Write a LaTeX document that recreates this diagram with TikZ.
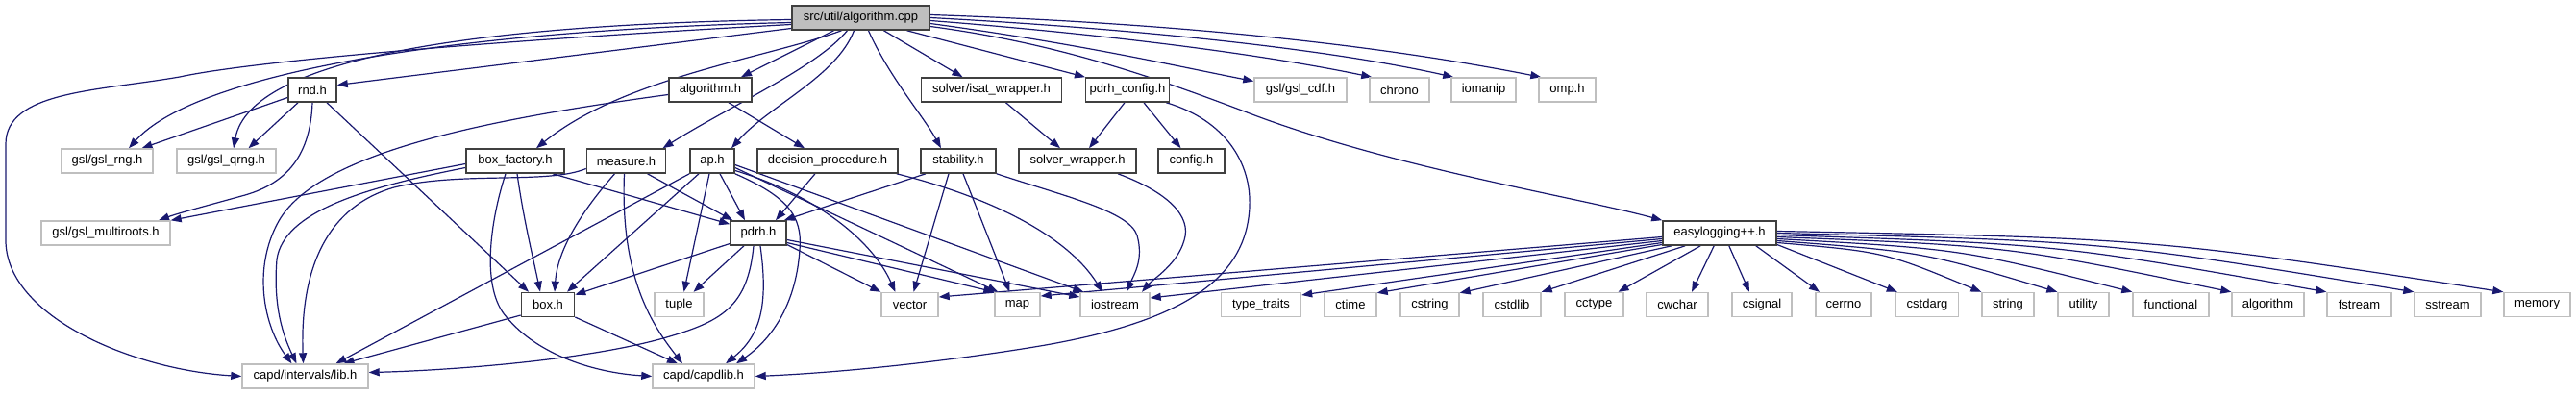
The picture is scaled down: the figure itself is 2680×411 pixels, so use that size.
\documentclass[tikz,border=0pt]{standalone}
\usepackage{fontspec}
\setmainfont{Liberation Sans}
\usetikzlibrary{arrows.meta}
\definecolor{navy}{RGB}{25,25,112}
\definecolor{lgray}{RGB}{191,191,191}
\definecolor{dgray}{RGB}{64,64,64}
\pgfdeclarelayer{paper}
\pgfdeclarelayer{bg}
\pgfsetlayers{paper,bg,main}
\begin{document}
\begin{tikzpicture}[x=1pt,y=-1pt,font=\fontsize{13}{15}\selectfont,
  base/.style={rectangle, inner sep=0pt, minimum height=25pt, text=black},
  intn/.style={base, draw=dgray, line width=1.6pt, fill=white},
  extn/.style={base, draw=lgray, line width=1.4pt, fill=white},
  rootn/.style={base, draw=dgray, line width=1.6pt, fill=lgray},
  dep/.style={draw=navy, line width=1.2pt, -{Triangle[length=11pt,width=8pt]}}]
\begin{pgfonlayer}{paper}
\fill[white] (0,0) rectangle (2680,411);
\end{pgfonlayer}
\useasboundingbox (0,0) rectangle (2680,411);
% row 1
\node[rootn, minimum width=143pt] (ac) at (895.5,18.5) {src/util/algorithm.cpp};
% row 2
\node[intn, minimum width=50pt] (rnd) at (325,93.5) {rnd.h};
\node[intn, minimum width=86pt] (algh) at (739,93.5) {algorithm.h};
\node[intn, minimum width=146pt] (isat) at (1031.5,93.5) {solver/isat\_wrapper.h};
\node[intn, minimum width=87pt] (pcfg) at (1173,93.5) {pdrh\_config.h};
\node[extn, minimum width=96pt] (cdf) at (1353,93.5) {gsl/gsl\_cdf.h};
\node[extn, minimum width=62pt] (chrono) at (1456,93.5) {chrono};
\node[extn, minimum width=67pt] (iomanip) at (1543.5,93.5) {iomanip};
\node[extn, minimum width=59pt] (omp) at (1630.5,93.5) {omp.h};
% row 3
\node[extn, minimum width=95pt] (rng) at (111.5,167.5) {gsl/gsl\_rng.h};
\node[extn, minimum width=103pt] (qrng) at (235.5,167.5) {gsl/gsl\_qrng.h};
\node[intn, minimum width=102pt] (bf) at (536,167.5) {box\_factory.h};
\node[intn, minimum width=82pt] (meas) at (651.5,167.5) {measure.h};
\node[intn, minimum width=46pt] (ap) at (741,167.5) {ap.h};
\node[intn, minimum width=146pt] (dp) at (861,167.5) {decision\_procedure.h};
\node[intn, minimum width=78pt] (stab) at (997,167.5) {stability.h};
\node[intn, minimum width=122pt] (sw) at (1121,167.5) {solver\_wrapper.h};
\node[intn, minimum width=69pt] (cfg) at (1239.5,167.5) {config.h};
% row 4
\node[extn, minimum width=134pt] (multi) at (110,242.5) {gsl/gsl\_multiroots.h};
\node[intn, minimum width=58pt] (pdrh) at (789,242.5) {pdrh.h};
\node[intn, minimum width=118pt] (easy) at (1789,242.5) {easylogging++.h};
% row 5
\node[intn, minimum width=55pt] (box) at (570,317) {box.h};
\node[extn, minimum width=51pt] (tuple) at (706.5,317) {tuple};
\node[extn, minimum width=59pt] (vector) at (946.5,317) {vector};
\node[extn, minimum width=47pt] (map) at (1058.5,317) {map};
\node[extn, minimum width=72pt] (iostream) at (1160,317) {iostream};
\node[extn, minimum width=83pt] (tt) at (1312,317) {type\_traits};
\node[extn, minimum width=54pt] (ctime) at (1405,317) {ctime};
\node[extn, minimum width=61pt] (cstring) at (1487.5,317) {cstring};
\node[extn, minimum width=60pt] (cstdlib) at (1573,317) {cstdlib};
\node[extn, minimum width=61pt] (cctype) at (1658.5,317) {cctype};
\node[extn, minimum width=64pt] (cwchar) at (1745,317) {cwchar};
\node[extn, minimum width=62pt] (csignal) at (1833,317) {csignal};
\node[extn, minimum width=58pt] (cerrno) at (1918,317) {cerrno};
\node[extn, minimum width=65pt] (cstdarg) at (2005,317) {cstdarg};
\node[extn, minimum width=54pt] (string) at (2089,317) {string};
\node[extn, minimum width=53pt] (utility) at (2167.5,317) {utility};
\node[extn, minimum width=79pt] (functional) at (2258.5,317) {functional};
\node[extn, minimum width=75pt] (algorithm) at (2359.5,317) {algorithm};
\node[extn, minimum width=67pt] (fstream) at (2454.5,317) {fstream};
\node[extn, minimum width=69pt] (sstream) at (2546.5,317) {sstream};
\node[extn, minimum width=69pt] (memory) at (2639.5,317) {memory};
% row 6
\node[extn, minimum width=131pt] (lib) at (317.5,391.5) {capd/intervals/lib.h};
\node[extn, minimum width=106pt] (capd) at (732,391.5) {capd/capdlib.h};

\begin{pgfonlayer}{bg}
% from algorithm.cpp
\draw[dep] ([yshift=-2pt]ac.west) .. controls (500,25) and (260,60) .. ([xshift=7.5pt]qrng.north);
\draw[dep] ([yshift=-5pt]ac.west) .. controls (450,32) and (200,80) .. ([xshift=22.5pt]rng.north);
\draw[dep] ([yshift=-7pt]ac.west) .. controls (550,40) and (270,62) .. (187,80) .. controls (100,95) and (6,95) .. (6,150) -- (6,250) .. controls (6,330) and (140,385) .. (lib.west);
\draw[dep] ([yshift=-11pt]ac.west) -- ([yshift=5pt]rnd.east);
\draw[dep] ([xshift=-28pt]ac.south) -- ([xshift=32pt]algh.north);
\draw[dep] ([xshift=-20pt]ac.south) .. controls (800,60) and (650,80) .. ([xshift=22pt]bf.north);
\draw[dep] ([xshift=-14pt]ac.south) .. controls (850,70) and (760,110) .. ([xshift=38pt]meas.north);
\draw[dep] ([xshift=-7pt]ac.south) .. controls (870,80) and (800,110) .. ([xshift=20pt]ap.north);
\draw[dep] ([xshift=8pt]ac.south) .. controls (925,80) and (960,120) .. ([xshift=-18pt]stab.north);
\draw[dep] ([xshift=24pt]ac.south) -- ([xshift=-30pt]isat.north);
\draw[dep] ([xshift=48pt]ac.south) -- ([xshift=-44pt]pcfg.north);
\draw[dep] ([yshift=3pt]ac.east) .. controls (1250,25) and (1450,50) .. ([xshift=3pt]omp.north west);
\draw[dep] (ac.east) .. controls (1220,32) and (1400,55) .. ([xshift=3pt]iomanip.north west);
\draw[dep] ([yshift=-3pt]ac.east) .. controls (1180,38) and (1330,60) .. ([xshift=3pt]chrono.north west);
\draw[dep] ([yshift=-6pt]ac.east) .. controls (1120,45) and (1230,70) .. ([yshift=9pt]cdf.west);
\draw[dep] ([yshift=-9pt]ac.east) .. controls (1100,45) and (1200,80) .. (1300,118) .. controls (1450,175) and (1640,205) .. (easy.north west);
% rnd.h
\draw[dep] ([yshift=-8pt]rnd.west) -- ([xshift=36pt]rng.north);
\draw[dep] ([xshift=-15pt]rnd.south) -- ([xshift=23pt]qrng.north);
\draw[dep] (rnd.south) .. controls (323,160) and (300,190) .. (255,203) .. controls (215,214) and (185,222) .. ([xshift=55pt]multi.north);
\draw[dep] ([xshift=15pt]rnd.south) -- ([xshift=-20pt]box.north);
% box_factory.h
\draw[dep] ([yshift=-3pt]bf.west) -- (multi.north east);
\draw[dep] ([yshift=-7pt]bf.west) .. controls (380,195) and (295,220) .. (288,270) .. controls (284,320) and (295,350) .. ([xshift=-9pt]lib.north);
\draw[dep] ([xshift=2pt]bf.south) .. controls (545,230) and (555,270) .. ([xshift=-8pt]box.north);
\draw[dep] ([xshift=-10pt]bf.south) .. controls (510,230) and (500,300) .. (527,330) .. controls (560,370) and (620,388) .. (capd.west);
\draw[dep] ([xshift=39pt]bf.south) -- ([yshift=-4pt]pdrh.north west);
% measure.h
\draw[dep] ([yshift=-8pt]meas.west) .. controls (570,192) and (480,178) .. (410,195) .. controls (340,215) and (312,280) .. ([xshift=-2pt]lib.north);
\draw[dep] ([xshift=-12pt]meas.south) .. controls (605,220) and (580,260) .. ([xshift=7pt]box.north);
\draw[dep] ([xshift=-2pt]meas.south) .. controls (645,290) and (680,340) .. ([xshift=-22pt]capd.north);
\draw[dep] ([xshift=22pt]meas.south) -- ([xshift=3pt]pdrh.north west);
% ap.h
\draw[dep] (ap.south west) -- ([xshift=32pt]lib.north);
\draw[dep] ([xshift=-14pt]ap.south) -- ([xshift=20pt]box.north);
\draw[dep] ([xshift=-3pt]ap.south) -- ([xshift=5pt]tuple.north);
\draw[dep] ([xshift=8pt]ap.south) -- ([xshift=-14pt]pdrh.north);
\draw[dep] (ap.south east) .. controls (820,205) and (835,225) .. (832,260) .. controls (828,320) and (800,355) .. ([xshift=34pt]capd.north);
\draw[dep] ([yshift=-10pt]ap.east) .. controls (840,200) and (905,245) .. ([xshift=-15pt]vector.north);
\draw[dep] ([yshift=-7pt]ap.east) -- ([xshift=4pt]map.north west);
\draw[dep] ([yshift=-4pt]ap.east) -- ([xshift=4pt]iostream.north west);
% pdrh.h
\draw[dep] ([yshift=-11pt]pdrh.west) -- ([yshift=-3pt]box.north east);
\draw[dep] ([xshift=-15pt]pdrh.south) -- ([xshift=15pt]tuple.north);
\draw[dep] ([xshift=-5pt]pdrh.south) .. controls (778,320) and (750,335) .. (690,352) .. controls (600,377) and (450,386) .. ([yshift=4pt]lib.east);
\draw[dep] ([xshift=2pt]pdrh.south) .. controls (800,320) and (790,350) .. ([xshift=23pt]capd.north);
\draw[dep] ([yshift=-12pt]pdrh.east) -- (vector.north west);
\draw[dep] ([yshift=-10pt]pdrh.east) -- (map.north west);
\draw[dep] ([yshift=-7pt]pdrh.east) -- ([yshift=8pt]iostream.west);
% box.h
\draw[dep] ([yshift=-11pt]box.west) -- ([xshift=40pt]lib.north);
\draw[dep] ([yshift=-13pt]box.east) -- ([xshift=-27pt]capd.north);
% algorithm.h
\draw[dep] ([xshift=19pt]algh.south) -- ([xshift=-24pt]dp.north);
\draw[dep] ([yshift=-5pt]algh.west) .. controls (500,125) and (330,160) .. (290,230) .. controls (262,280) and (275,340) .. ([xshift=-14pt]lib.north);
% decision_procedure.h
\draw[dep] ([xshift=-13pt]dp.south) -- ([xshift=18pt]pdrh.north);
\draw[dep] ([xshift=-2pt]dp.south east) .. controls (1030,205) and (1110,245) .. ([xshift=-13pt]iostream.north);
% stability.h
\draw[dep] ([xshift=-34pt]stab.south) -- ([xshift=-3pt]pdrh.north east);
\draw[dep] ([xshift=-10pt]stab.south) -- ([xshift=4pt]vector.north);
\draw[dep] ([xshift=5pt]stab.south) -- ([xshift=-8pt]map.north);
\draw[dep] (stab.south east) .. controls (1110,205) and (1175,220) .. (1183,245) .. controls (1190,270) and (1180,285) .. ([xshift=12pt]iostream.north);
% solver_wrapper.h
\draw[dep] ([xshift=42pt]sw.south) .. controls (1215,200) and (1240,225) .. (1232,250) .. controls (1225,275) and (1200,290) .. ([xshift=28pt]iostream.north);
% isat / pdrh_config
\draw[dep] ([xshift=15pt]isat.south) -- ([xshift=-18pt]sw.north);
\draw[dep] ([xshift=-3pt]pcfg.south) -- ([xshift=12pt]sw.north);
\draw[dep] ([xshift=17pt]pcfg.south) -- ([xshift=-11pt]cfg.north);
\draw[dep] ([xshift=-4pt]pcfg.south east) .. controls (1275,125) and (1302,170) .. (1300,215) .. controls (1297,290) and (1230,335) .. (1082,360) .. controls (980,377) and (870,388) .. (capd.east);
% easylogging++.h
\draw[dep] ([yshift=-4pt]easy.west) -- ([yshift=8pt]vector.east);
\draw[dep] ([yshift=-6pt]easy.west) -- ([yshift=9pt]map.east);
\draw[dep] ([yshift=-8pt]easy.west) -- ([yshift=7pt]iostream.east);
\draw[dep] ([yshift=-10pt]easy.west) -- ([yshift=10pt]tt.east);
\draw[dep] ([yshift=-12pt]easy.west) -- ([yshift=-1pt]ctime.north east);
\draw[dep] ([xshift=10pt]easy.south west) -- ([yshift=-1pt]cstring.north east);
\draw[dep] ([xshift=24pt]easy.south west) -- (cstdlib.north east);
\draw[dep] ([xshift=40pt]easy.south west) -- ([xshift=25pt]cctype.north);
\draw[dep] ([xshift=54pt]easy.south west) -- ([xshift=15pt]cwchar.north);
\draw[dep] ([xshift=-50pt]easy.south east) -- ([xshift=-13pt]csignal.north);
\draw[dep] ([xshift=-22pt]easy.south east) -- ([xshift=-25pt]cerrno.north);
\draw[dep] ([yshift=-12pt]easy.east) -- ([xshift=2pt]cstdarg.north west);
\draw[dep] ([yshift=-10pt]easy.east) .. controls (1960,262) .. (string.north west);
\draw[dep] ([yshift=-8pt]easy.east) .. controls (2000,262) .. (utility.north west);
\draw[dep] ([yshift=-6pt]easy.east) .. controls (2040,259) .. (functional.north west);
\draw[dep] ([yshift=-4pt]easy.east) .. controls (2090,256) .. (algorithm.north west);
\draw[dep] ([yshift=-2pt]easy.east) .. controls (2140,254) .. (fstream.north west);
\draw[dep] (easy.east) .. controls (2190,251) .. (sstream.north west);
\draw[dep] ([yshift=2pt]easy.east) .. controls (2240,248) .. (memory.north west);
\end{pgfonlayer}
\end{tikzpicture}
\end{document}
